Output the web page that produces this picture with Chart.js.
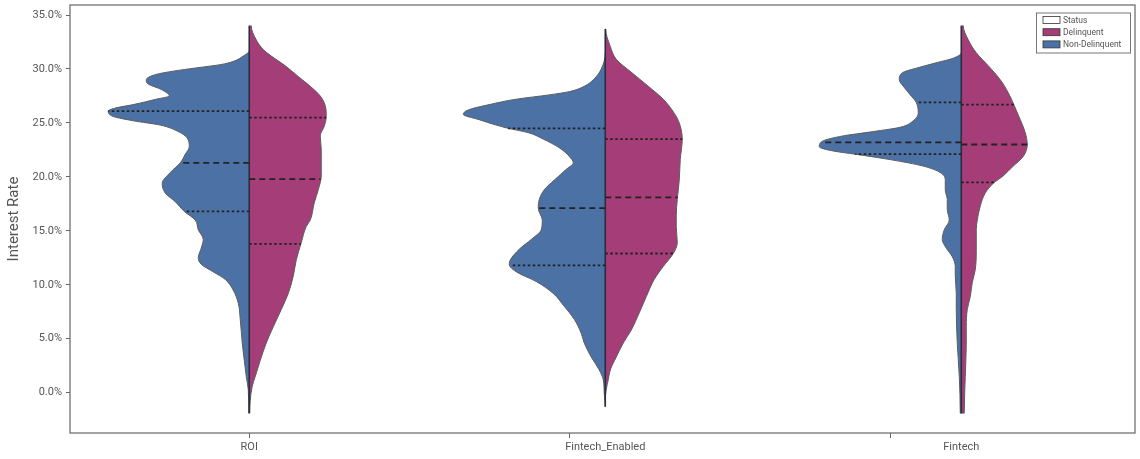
<!DOCTYPE html>
<html>
<head>
<meta charset="utf-8">
<title>Interest Rate by Platform and Status</title>
<script src="https://cdn.jsdelivr.net/npm/chart.js@4.4.0/dist/chart.umd.min.js"></script>
<style>
    html, body { margin: 0; padding: 0; background: #ffffff; }
    #wrap { width: 1140px; height: 459px; }
</style>
</head>
<body>
<div id="wrap"><canvas id="violinChart" width="1140" height="459"></canvas></div>
<script>
// categories and legend
var categories = ['ROI', 'Fintech_Enabled', 'Fintech'];
var legendTitle = 'Status';
var statusLabels = ['Delinquent', 'Non-Delinquent'];
var yTickValues = [0, 5, 10, 15, 20, 25, 30, 35];
var xTickMarks = [0, 0.9, 1.8];

// kde outlines: interest rate (%) and half-width density
var roiNonRate = [31.7, 31.2, 30.7, 30.4, 30.1, 29.8, 29.5, 29.0, 28.6, 28.1, 27.5, 27.2, 26.7, 26.4, 26.1, 25.6, 25.2, 24.8, 24.2, 23.6, 22.8, 22.1, 21.3, 20.4, 19.4, 18.5, 17.7, 16.8, 16.0, 15.1, 14.2, 13.4, 12.5, 11.9, 11.2, 10.5, 9.5, 8.3, 6.8, 4.6, 3.0, 1.5, 0.3, -1.9];
var roiNonDens = [0, 6, 16, 29, 53, 76, 93, 103, 101, 88, 80, 93, 116, 133, 141, 136, 116, 89, 71, 62, 60, 64, 69, 79, 87, 84, 74, 65, 54, 51, 46, 48, 51, 48, 36, 24, 16, 11, 9, 7, 5, 3, 1, 0.5];
var roiDelRate = [34.0, 32.7, 31.8, 31.2, 30.3, 29.3, 28.4, 27.5, 26.6, 25.6, 24.7, 23.8, 22.5, 21.3, 20.1, 18.8, 17.6, 16.0, 15.4, 13.9, 12.3, 10.8, 9.2, 7.7, 6.1, 4.6, 3.0, 1.5, 0.6, -0.7, -1.9];
var roiDelDens = [2, 7, 14, 22, 36, 49, 61, 71, 76, 77, 75, 71, 72, 72, 72, 69, 65, 61, 57, 52, 47, 44, 39, 32, 24, 17, 11, 6, 3, 1, 0.5];

var feNonRate = [31.5, 30.0, 29.0, 28.4, 27.9, 27.6, 27.2, 26.7, 26.2, 25.8, 25.3, 24.8, 24.5, 24.1, 23.5, 22.7, 21.9, 21.3, 20.7, 19.7, 18.8, 17.9, 17.1, 16.0, 15.1, 14.2, 13.3, 12.3, 11.9, 11.2, 10.3, 9.2, 8.0, 6.8, 5.5, 4.6, 3.3, 2.1, 1.2, -0.1, -1.3];
var feNonDens = [0, 4, 12, 21, 36, 56, 89, 116, 137, 142, 126, 109, 97, 77, 62, 46, 36, 32, 39, 51, 61, 66, 67, 63, 64, 74, 86, 95, 96, 89, 69, 52, 41, 31, 24, 21, 14, 6, 2, 1, 0];
var feDelRate = [33.7, 32.1, 30.9, 29.7, 28.4, 27.2, 25.9, 25.0, 23.5, 21.6, 19.7, 17.9, 16.4, 15.4, 13.9, 12.9, 11.7, 10.5, 8.9, 7.4, 5.8, 4.6, 3.3, 2.1, 1.2, 0.3, -0.7];
var feDelDens = [0.5, 5, 11, 26, 43, 58, 69, 74, 77, 75, 74, 72, 71, 71, 72, 68, 58, 49, 41, 34, 26, 18, 11, 5, 3, 1, 0];

var ftNonRate = [31.5, 31.0, 30.6, 30.1, 29.7, 29.0, 28.4, 27.6, 26.9, 25.9, 25.2, 24.6, 24.2, 23.8, 23.3, 22.8, 22.4, 22.1, 21.6, 21.0, 20.4, 19.7, 18.8, 17.9, 17.0, 16.0, 15.1, 14.2, 13.4, 12.6, 11.7, 10.8, 9.2, 7.7, 4.6, 1.5, -1.9];
var ftNonDens = [0, 8, 24, 44, 58, 62, 58, 51, 45, 43, 48, 61, 88, 118, 139, 142, 128, 106, 71, 38, 21, 16, 16, 14, 14, 12, 17, 19, 15, 9, 6, 6, 5, 5, 4, 2, 1];
var ftDelRate = [34.0, 32.7, 31.5, 30.3, 29.0, 27.8, 26.6, 25.3, 24.1, 23.0, 21.9, 21.0, 20.1, 19.4, 18.5, 17.3, 16.0, 15.1, 13.2, 11.4, 10.2, 8.9, 7.7, 6.1, 4.6, 1.5, -1.9];
var ftDelDens = [2, 7, 15, 27, 39, 47, 53, 59, 64, 66, 62, 52, 42, 32, 24, 19, 16, 15, 15, 14, 11, 9, 6, 5, 5, 4, 3];

// quartiles [q75, median, q25]
var roiNonQuart = [26.1, 21.3, 16.8];
var roiDelQuart = [25.5, 19.8, 13.8];
var feNonQuart = [24.5, 17.1, 11.8];
var feDelQuart = [23.5, 18.1, 12.9];
var ftNonQuart = [26.9, 23.2, 22.1];
var ftDelQuart = [26.7, 23.0, 19.5];

var BLUE = '#4c71a5';
var MAGENTA = '#a53e78';
var DENS_SCALE = 1 / 356;

var halves = [
    { cat: 0, side: -1, rate: roiNonRate, dens: roiNonDens, quart: roiNonQuart, color: BLUE },
    { cat: 0, side: 1, rate: roiDelRate, dens: roiDelDens, quart: roiDelQuart, color: MAGENTA },
    { cat: 1, side: -1, rate: feNonRate, dens: feNonDens, quart: feNonQuart, color: BLUE },
    { cat: 1, side: 1, rate: feDelRate, dens: feDelDens, quart: feDelQuart, color: MAGENTA },
    { cat: 2, side: -1, rate: ftNonRate, dens: ftNonDens, quart: ftNonQuart, color: BLUE },
    { cat: 2, side: 1, rate: ftDelRate, dens: ftDelDens, quart: ftDelQuart, color: MAGENTA }
];

function densAt(rate, dens, q) {
    for (var i = 0; i < rate.length - 1; i++) {
        if (q <= rate[i] && q >= rate[i + 1]) {
            var t = (rate[i] - q) / (rate[i] - rate[i + 1]);
            return dens[i] + t * (dens[i + 1] - dens[i]);
        }
    }
    return 0;
}

var datasets = [];

halves.forEach(function (h) {
    var pts = [{ x: h.cat, y: h.rate[0] }];
    for (var i = 0; i < h.rate.length; i++) {
        pts.push({ x: h.cat + h.side * h.dens[i] * DENS_SCALE, y: h.rate[i] });
    }
    pts.push({ x: h.cat, y: h.rate[h.rate.length - 1] });
    datasets.push({
        data: pts,
        backgroundColor: h.color,
        borderColor: '#5c5c5c',
        borderWidth: 1,
        fill: { value: h.cat },
        pointRadius: 0,
        cubicInterpolationMode: 'monotone',
        order: 3
    });

    h.quart.forEach(function (q, k) {
        var w = densAt(h.rate, h.dens, q);
        datasets.push({
            data: [{ x: h.cat, y: q }, { x: h.cat + h.side * w * DENS_SCALE, y: q }],
            borderColor: '#222222',
            borderWidth: 1.8,
            borderDash: k === 1 ? [6, 4] : [2.5, 2.5],
            fill: false,
            pointRadius: 0,
            order: 1
        });
    });
});

// center line of each violin
[0, 1, 2].forEach(function (c) {
    var sides = halves.filter(function (h) { return h.cat === c; });
    var top = Math.max(sides[0].rate[0], sides[1].rate[0]);
    var bottom = Math.min(sides[0].rate[sides[0].rate.length - 1], sides[1].rate[sides[1].rate.length - 1]);
    datasets.push({
        data: [{ x: c, y: top }, { x: c, y: bottom }],
        borderColor: '#2b2e40',
        borderWidth: 1.6,
        fill: false,
        pointRadius: 0,
        order: 2
    });
});

var frameAndLegend = {
    id: 'frameAndLegend',
    afterDraw: function (chart) {
        var ctx = chart.ctx;
        var a = chart.chartArea;
        ctx.save();
        ctx.strokeStyle = '#666666';
        ctx.lineWidth = 1.2;
        ctx.strokeRect(a.left, a.top, a.right - a.left, a.bottom - a.top);

        // legend box top right
        var bx = a.right - 99, by = a.top + 7.5, bw = 94, bh = 40;
        ctx.fillStyle = '#ffffff';
        ctx.fillRect(bx, by, bw, bh);
        ctx.strokeStyle = '#777777';
        ctx.lineWidth = 1;
        ctx.strokeRect(bx + 0.5, by + 0.5, bw, bh);
        var entries = [legendTitle].concat(statusLabels);
        var fills = ['#ffffff', MAGENTA, BLUE];
        ctx.font = '8.5px Roboto';
        ctx.textBaseline = 'middle';
        entries.forEach(function (lbl, i) {
            var cy = by + 7.5 + i * 12.2;
            ctx.fillStyle = fills[i];
            ctx.fillRect(bx + 7, cy - 3.5, 17, 7);
            ctx.strokeStyle = '#333333';
            ctx.lineWidth = 0.8;
            ctx.strokeRect(bx + 7, cy - 3.5, 17, 7);
            ctx.fillStyle = '#555555';
            ctx.fillText(lbl, bx + 27, cy + 0.5);
        });
        ctx.restore();
    }
};

document.addEventListener("DOMContentLoaded", function () {
    Chart.defaults.font.family = "Roboto, 'DejaVu Sans', sans-serif";

    new Chart(document.getElementById('violinChart'), {
        type: 'line',
        data: { datasets: datasets },
        options: {
            indexAxis: 'y',
            responsive: false,
            animation: false,
            events: [],
            layout: { padding: { top: 5, right: 5, left: 0, bottom: 0 } },
            plugins: {
                legend: { display: false },
                tooltip: { enabled: false }
            },
            scales: {
                x: {
                    type: 'linear',
                    min: -0.5035,
                    max: 2.488,
                    afterBuildTicks: function (scale) {
                        scale.ticks = [0, 0.9, 1, 1.8, 2].map(function (v) { return { value: v }; });
                    },
                    afterFit: function (scale) {
                        scale.height = 26;
                        scale.paddingLeft = 0;
                        scale.paddingRight = 0;
                    },
                    border: { display: false },
                    grid: {
                        drawOnChartArea: false,
                        tickLength: 5,
                        tickWidth: 1,
                        tickColor: function (c) {
                            return c.tick && xTickMarks.indexOf(c.tick.value) >= 0 ? '#666666' : 'rgba(0,0,0,0)';
                        }
                    },
                    ticks: {
                        autoSkip: false,
                        maxRotation: 0,
                        padding: 3,
                        color: '#555555',
                        font: { size: 11 },
                        callback: function (v) {
                            return Number.isInteger(v) ? categories[v] : '';
                        }
                    }
                },
                y: {
                    type: 'linear',
                    min: -3.737,
                    max: 35.93,
                    afterBuildTicks: function (scale) {
                        scale.ticks = yTickValues.map(function (v) { return { value: v }; });
                    },
                    afterFit: function (scale) {
                        scale.width = 70;
                        scale.paddingTop = 0;
                        scale.paddingBottom = 0;
                    },
                    border: { display: false },
                    grid: {
                        drawOnChartArea: false,
                        tickLength: 4,
                        tickWidth: 1,
                        tickColor: '#666666'
                    },
                    ticks: {
                        padding: 4,
                        color: '#555555',
                        font: { size: 11 },
                        callback: function (v) { return v.toFixed(1) + '%'; }
                    },
                    title: {
                        display: true,
                        text: 'Interest Rate',
                        color: '#555555',
                        font: { size: 15 },
                        padding: { top: 5, bottom: 0 }
                    }
                }
            }
        },
        plugins: [frameAndLegend]
    });
});
</script>
</body>
</html>
